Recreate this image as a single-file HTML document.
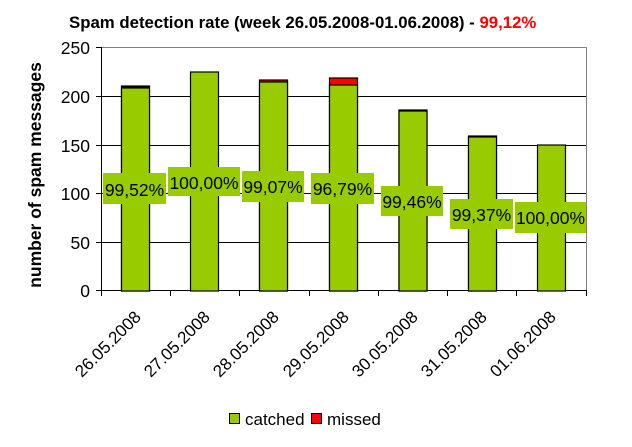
<!DOCTYPE html>
<html><head><meta charset="utf-8"><style>html,body{margin:0;padding:0;background:#fff}svg{display:block}</style></head>
<body>
<svg width="632" height="447" viewBox="0 0 632 447" xmlns="http://www.w3.org/2000/svg" font-family="Liberation Sans, Arial, sans-serif">
<rect width="632" height="447" fill="#fff"/>
<text x="69" y="28" font-size="16.8" font-weight="bold" fill="#000">Spam detection rate (week 26.05.2008-01.06.2008) - <tspan fill="#ff0000">99,12%</tspan></text>
<g stroke="#000" stroke-width="1">
<line x1="102" y1="96.5" x2="586" y2="96.5"/>
<line x1="102" y1="145.5" x2="586" y2="145.5"/>
<line x1="102" y1="193.5" x2="586" y2="193.5"/>
<line x1="102" y1="242.5" x2="586" y2="242.5"/>
</g>
<line x1="102" y1="47.5" x2="586" y2="47.5" stroke="#808080"/>
<line x1="586.5" y1="47" x2="586.5" y2="291" stroke="#808080"/>
<g stroke="#000" stroke-width="1">
<line x1="101.5" y1="47" x2="101.5" y2="291"/>
<line x1="101" y1="290.5" x2="586" y2="290.5"/>
<line x1="96" y1="47.5" x2="102" y2="47.5"/><line x1="96" y1="96.5" x2="102" y2="96.5"/>
<line x1="96" y1="145.5" x2="102" y2="145.5"/><line x1="96" y1="193.5" x2="102" y2="193.5"/>
<line x1="96" y1="242.5" x2="102" y2="242.5"/><line x1="96" y1="290.5" x2="102" y2="290.5"/>
<line x1="101.5" y1="290" x2="101.5" y2="296"/><line x1="170.5" y1="290" x2="170.5" y2="296"/>
<line x1="239.5" y1="290" x2="239.5" y2="296"/><line x1="309.5" y1="290" x2="309.5" y2="296"/>
<line x1="378.5" y1="290" x2="378.5" y2="296"/><line x1="447.5" y1="290" x2="447.5" y2="296"/>
<line x1="516.5" y1="290" x2="516.5" y2="296"/><line x1="586.5" y1="290" x2="586.5" y2="296"/>
</g>
<g font-size="17.5" text-anchor="end" fill="#000">
<text x="90" y="54">250</text><text x="90" y="103">200</text><text x="90" y="152">150</text>
<text x="90" y="200">100</text><text x="90" y="249">50</text><text x="90" y="297">0</text>
</g>
<text transform="translate(41,175) rotate(-90)" font-size="17.5" font-weight="bold" text-anchor="middle">number of spam messages</text>
<g stroke="#000" stroke-width="1.2">
<rect x="121.5" y="86" width="28" height="205" fill="#000"/>
<rect x="121.5" y="88" width="28" height="203" fill="#99cc00"/>
<rect x="190.5" y="72" width="28" height="219" fill="#99cc00"/>
<rect x="259.5" y="80" width="28" height="211" fill="#ff0000"/>
<rect x="259.5" y="82" width="28" height="209" fill="#99cc00"/>
<rect x="329.5" y="78" width="28" height="213" fill="#ff0000"/>
<rect x="329.5" y="85" width="28" height="206" fill="#99cc00"/>
<rect x="399" y="110" width="28" height="181" fill="#000"/>
<rect x="399" y="111" width="28" height="180" fill="#99cc00"/>
<rect x="468.5" y="136" width="28" height="155" fill="#000"/>
<rect x="468.5" y="137" width="28" height="154" fill="#99cc00"/>
<rect x="537.5" y="145" width="28" height="146" fill="#99cc00"/>
</g>
<g fill="#99cc00">
<rect x="103" y="173" width="63" height="31"/>
<rect x="168" y="167" width="72" height="29"/>
<rect x="242" y="171" width="62" height="31"/>
<rect x="311" y="173" width="63" height="31"/>
<rect x="381" y="186" width="62" height="30"/>
<rect x="450" y="199" width="63" height="30"/>
<rect x="515" y="202" width="71" height="31"/>
</g>
<g font-size="17.5" text-anchor="middle" fill="#000">
<text x="134.5" y="196">99,52%</text>
<text x="204" y="189">100,00%</text>
<text x="273" y="193">99,07%</text>
<text x="342.5" y="195">96,79%</text>
<text x="412" y="208">99,46%</text>
<text x="481.5" y="221">99,37%</text>
<text x="550.5" y="224">100,00%</text>
</g>
<g font-size="17" text-anchor="end" fill="#000">
<text transform="translate(142,318) rotate(-45)">26.05.2008</text>
<text transform="translate(211,318) rotate(-45)">27.05.2008</text>
<text transform="translate(280,318) rotate(-45)">28.05.2008</text>
<text transform="translate(350,318) rotate(-45)">29.05.2008</text>
<text transform="translate(419,318) rotate(-45)">30.05.2008</text>
<text transform="translate(488,318) rotate(-45)">31.05.2008</text>
<text transform="translate(557,318) rotate(-45)">01.06.2008</text>
</g>
<rect x="229.5" y="413.5" width="10" height="10" fill="#99cc00" stroke="#000"/>
<text x="245" y="425" font-size="17">catched</text>
<rect x="311.5" y="413.5" width="10" height="10" fill="#ff0000" stroke="#000"/>
<text x="327" y="425" font-size="17">missed</text>
</svg>
</body></html>
